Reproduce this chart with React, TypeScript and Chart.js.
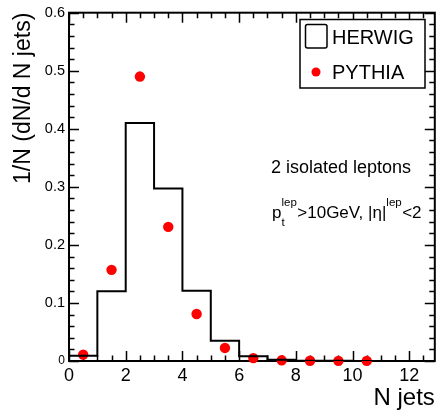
import React, { useEffect, useRef } from "react";
import { Chart, registerables } from "chart.js";

Chart.register(...registerables);

// ---- data ----
const herwigBinEdges = [0, 1, 2, 3, 4, 5, 6, 7, 8, 9, 10, 11];
const herwigValues = [0.009, 0.12, 0.41, 0.297, 0.121, 0.035, 0.008, 0.002, 0.0006, 0.0003, 0.0001];
const pythiaX = [0.5, 1.5, 2.5, 3.5, 4.5, 5.5, 6.5, 7.5, 8.5, 9.5, 10.5];
const pythiaValues = [0.011, 0.157, 0.49, 0.231, 0.081, 0.0225, 0.005, 0.0012, 0.0005, 0.0003, 0.0002];
const xTickValues = [0, 2, 4, 6, 8, 10, 12];
const yTickValues = [0, 0.1, 0.2, 0.3, 0.4, 0.5, 0.6];
const xRange = [0, 12.9];
const yRange = [0, 0.6];
const seriesLabels = ["HERWIG", "PYTHIA"];
const xTitle = "N jets";
const yTitle = "1/N (dN/d N jets)";

const FONT = '"Liberation Sans", Arial, Helvetica, sans-serif';

const rootFramePlugin = {
  id: "rootFrame",
  beforeDatasetsDraw(chart: any) {
    const { ctx, chartArea } = chart;
    const { left, right, top, bottom } = chartArea;
    const xs = chart.scales.x;
    const ys = chart.scales.y;
    ctx.save();
    ctx.strokeStyle = "#000";
    ctx.lineWidth = 1.5;
    // x ticks (bottom & top), inward
    const xStepMinor = 0.5;
    for (let i = 0; i * xStepMinor <= xRange[1] + 1e-9; i++) {
      const v = i * xStepMinor;
      const isMajor = Math.abs(v / 2 - Math.round(v / 2)) < 1e-6;
      const len = isMajor ? 10 : 5.5;
      const px = Math.round(xs.getPixelForValue(v)) + 0.5;
      ctx.beginPath();
      ctx.moveTo(px, bottom);
      ctx.lineTo(px, bottom - len);
      ctx.moveTo(px, top);
      ctx.lineTo(px, top + len);
      ctx.stroke();
    }
    // y ticks (left & right), inward
    const yStepMinor = 0.02;
    for (let i = 0; i * yStepMinor <= yRange[1] + 1e-9; i++) {
      const v = i * yStepMinor;
      const isMajor = i % 5 === 0;
      const len = isMajor ? 10 : 5.5;
      const py = Math.round(ys.getPixelForValue(v)) + 0.5;
      ctx.beginPath();
      ctx.moveTo(left, py);
      ctx.lineTo(left + len, py);
      ctx.moveTo(right, py);
      ctx.lineTo(right - len, py);
      ctx.stroke();
    }
    // frame
    ctx.lineWidth = 2;
    ctx.strokeRect(left, top, right - left, bottom - top);
    ctx.restore();
  },
};

const rootLegendPlugin = {
  id: "rootLegend",
  afterDatasetsDraw(chart: any) {
    const { ctx } = chart;
    const ds0 = chart.data.datasets[0];
    const ds1 = chart.data.datasets[1];
    ctx.save();
    // box
    ctx.fillStyle = "#fff";
    ctx.fillRect(300, 19, 125, 69);
    ctx.strokeStyle = "#000";
    ctx.lineWidth = 1.5;
    ctx.strokeRect(300, 19.5, 125, 68.5);
    // herwig symbol
    ctx.lineWidth = 1.5;
    ctx.strokeStyle = ds0.borderColor;
    ctx.beginPath();
    (ctx as any).roundRect ? (ctx as any).roundRect(305.5, 24.5, 21.5, 23.5, 2) : ctx.rect(305.5, 24.5, 21.5, 23.5);
    ctx.stroke();
    // pythia symbol
    ctx.fillStyle = ds1.pointBackgroundColor;
    ctx.beginPath();
    ctx.arc(316, 72, 4.5, 0, Math.PI * 2);
    ctx.fill();
    // labels
    ctx.fillStyle = "#000";
    ctx.font = `20px ${FONT}`;
    ctx.textBaseline = "alphabetic";
    ctx.textAlign = "left";
    ctx.fillText(ds0.label, 332, 44);
    ctx.fillText(ds1.label, 332, 79);
    ctx.restore();
  },
};

const annotationPlugin = {
  id: "rootText",
  afterDatasetsDraw(chart: any) {
    const { ctx } = chart;
    ctx.save();
    ctx.fillStyle = "#000";
    ctx.textBaseline = "alphabetic";
    ctx.textAlign = "left";
    ctx.font = `18px ${FONT}`;
    ctx.fillText("2 isolated leptons", 271, 173);
    const big = `17px ${FONT}`;
    const small = `11.5px ${FONT}`;
    let x = 272;
    const base = 218;
    ctx.font = big;
    ctx.fillText("p", x, base);
    x += ctx.measureText("p").width;
    ctx.font = small;
    ctx.fillText("t", x, base + 8);
    ctx.fillText("lep", x, base - 12);
    x += ctx.measureText("lep").width + 0.5;
    ctx.font = big;
    const mid = ">10GeV, |η|";
    ctx.fillText(mid, x, base);
    x += ctx.measureText(mid).width;
    ctx.font = small;
    ctx.fillText("lep", x, base - 12);
    x += ctx.measureText("lep").width + 0.5;
    ctx.font = big;
    ctx.fillText("<2", x, base);
    ctx.restore();
  },
};

export default function App() {
  const ref = useRef<HTMLCanvasElement | null>(null);

  useEffect(() => {
    if (!ref.current) return;
    const herwigPoints: { x: number; y: number }[] = [{ x: herwigBinEdges[0], y: 0 }];
    herwigValues.forEach((v, i) => herwigPoints.push({ x: herwigBinEdges[i], y: v }));
    herwigPoints.push({ x: herwigBinEdges[herwigValues.length], y: 0 });
    const pythiaPoints = pythiaX.map((x, i) => ({ x, y: pythiaValues[i] }));

    const chart = new Chart(ref.current, {
      type: "line",
      data: {
        datasets: [
          {
            label: seriesLabels[0],
            data: herwigPoints,
            borderColor: "#000000",
            borderWidth: 2,
            stepped: "before",
            pointRadius: 0,
            fill: false,
          } as any,
          {
            type: "scatter",
            label: seriesLabels[1],
            data: pythiaPoints,
            showLine: false,
            pointRadius: 5.2,
            pointBackgroundColor: "#ff0000",
            pointBorderColor: "#ff0000",
            pointBorderWidth: 0,
            clip: false,
          } as any,
        ],
      },
      options: {
        responsive: false,
        animation: false,
        events: [],
        layout: { padding: { left: 0, right: 2, top: 5, bottom: 0 } },
        plugins: {
          legend: { display: false },
          tooltip: { enabled: false },
        },
        scales: {
          x: {
            type: "linear",
            min: xRange[0],
            max: xRange[1],
            position: "bottom",
            grid: { display: false, drawTicks: false },
            border: { display: false },
            afterBuildTicks: (s: any) => {
              s.ticks = xTickValues.map((v) => ({ value: v }));
            },
            afterFit: (s: any) => {
              s.height = 56;
            },
            ticks: {
              autoSkip: false,
              maxRotation: 0,
              padding: 4,
              color: "#000",
              font: { family: FONT, size: 18 },
              callback: (v: any) => String(v),
            },
            title: {
              display: true,
              text: xTitle,
              align: "end",
              color: "#000",
              font: { family: FONT, size: 24 },
              padding: { top: 0, bottom: 4 },
            },
          },
          y: {
            type: "linear",
            min: yRange[0],
            max: yRange[1],
            grid: { display: false, drawTicks: false },
            border: { display: false },
            afterBuildTicks: (s: any) => {
              s.ticks = yTickValues.map((v) => ({ value: v }));
            },
            afterFit: (s: any) => {
              s.width = 69;
            },
            ticks: {
              autoSkip: false,
              padding: 4,
              color: "#000",
              font: (c: any) => ({ family: FONT, size: c.tick && c.tick.value === 0 ? 12 : 14.5 }),
              callback: (v: any) => (Number(v) === 0 ? "0" : Number(v).toFixed(1)),
            },
            title: {
              display: true,
              text: yTitle,
              align: "end",
              color: "#000",
              font: { family: FONT, size: 23 },
              padding: { top: 10, bottom: 0 },
            },
          },
        },
      },
      plugins: [rootFramePlugin, rootLegendPlugin, annotationPlugin],
    });
    return () => chart.destroy();
  }, []);

  return (
    <div style={{ position: "absolute", left: 0, top: 0, width: 440, height: 417, background: "#fff" }}>
      <canvas ref={ref} width={440} height={417} />
    </div>
  );
}
